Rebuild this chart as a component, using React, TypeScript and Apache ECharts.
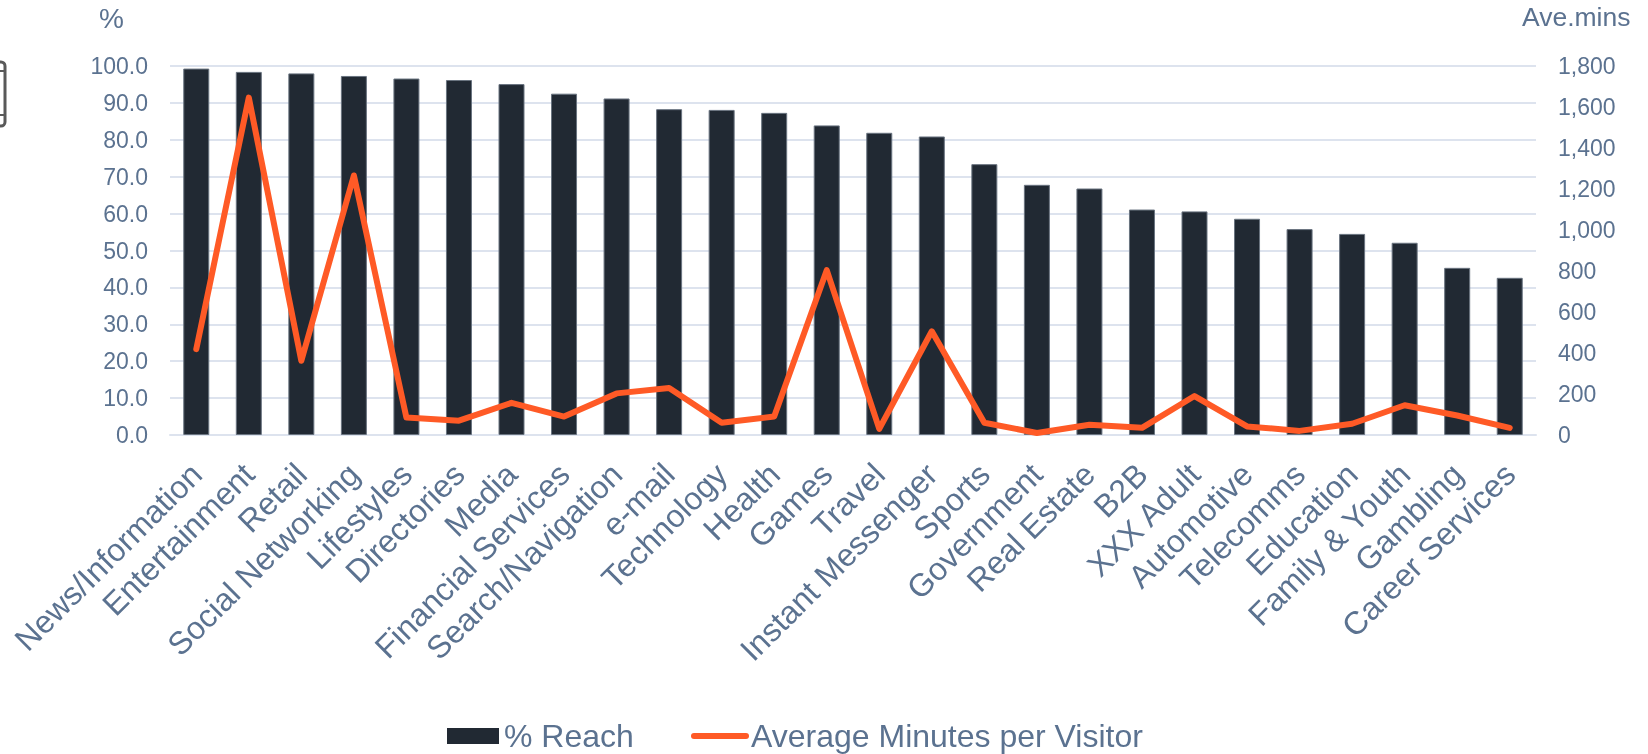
import React, { useEffect, useRef } from "react";
import * as echarts from "echarts";

const categories = ["News/Information","Entertainment","Retail","Social Networking","Lifestyles","Directories","Media","Financial Services","Search/Navigation","e-mail","Technology","Health","Games","Travel","Instant Messenger","Sports","Government","Real Estate","B2B","XXX Adult","Automotive","Telecomms","Education","Family & Youth","Gambling","Career Services"];
const reach = [99.3,98.4,98.0,97.3,96.6,96.2,95.1,92.5,91.2,88.3,88.1,87.3,83.9,81.9,80.9,73.4,67.8,66.8,61.1,60.6,58.6,55.8,54.5,52.1,45.3,42.6];
const minutes = [419,1646,362,1266,85,70,157,90,203,229,60,90,804,30,506,60,10,50,35,190,42,20,55,145,95,35];

const textColor = "#5b7290";
const gridColor = "#dde3ee";
const barColor = "#212933";
const lineColor = "#ff5a26";
const iconColor = "#595959";
const font = "'Liberation Sans', Arial, sans-serif";

export default function App() {
  const ref = useRef<HTMLDivElement>(null);
  useEffect(() => {
    const chart = echarts.init(ref.current!, null, { renderer: "svg" });
    const legendText = { fill: textColor, fontSize: 32, fontFamily: font, verticalAlign: "middle" };
    chart.setOption({
      animation: false,
      grid: { left: 170, right: 112, top: 66, bottom: 319 },
      legend: { show: false },
      graphic: [
        // frame partly off the left edge
        { type: "rect", x: -20, y: 62, shape: { width: 25, height: 64, r: 4 }, style: { fill: "none", stroke: iconColor, lineWidth: 3 } },
        { type: "line", shape: { x1: -20, y1: 71, x2: 5, y2: 71 }, style: { stroke: iconColor, lineWidth: 2 } },
        { type: "line", shape: { x1: -20, y1: 115, x2: 5, y2: 115 }, style: { stroke: iconColor, lineWidth: 2 } },
        // legend keys and labels
        { type: "rect", x: 447, y: 728, shape: { width: 52, height: 16 }, style: { fill: barColor } },
        { type: "text", x: 504, y: 736, style: { ...legendText, text: "% Reach" } },
        { type: "line", shape: { x1: 694, y1: 736, x2: 746, y2: 736 }, style: { stroke: lineColor, lineWidth: 6, lineCap: "round" } },
        { type: "text", x: 751, y: 736, style: { ...legendText, text: "Average Minutes per Visitor" } },
      ],
      xAxis: {
        type: "category",
        data: categories,
        axisLine: { lineStyle: { color: gridColor, width: 2 } },
        axisTick: { show: false },
        axisLabel: { interval: 0, rotate: 45, margin: 34, color: textColor, fontSize: 32, fontFamily: font },
      },
      yAxis: [
        {
          type: "value", min: 0, max: 100, interval: 10,
          name: "%", nameGap: 34, nameTextStyle: { color: textColor, fontSize: 28, fontFamily: font, align: "right", padding: [0, 46, 0, 0] },
          axisLine: { show: false }, axisTick: { show: false },
          splitLine: { lineStyle: { color: gridColor, width: 2 } },
          axisLabel: { margin: 22, color: textColor, fontSize: 23, fontFamily: font, formatter: (v: number) => v.toFixed(1) },
        },
        {
          type: "value", min: 0, max: 1800, interval: 200,
          name: "Ave.mins", nameGap: 36, nameTextStyle: { color: textColor, fontSize: 26.5, fontFamily: font, align: "left", padding: [0, 0, 0, -14] },
          axisLine: { show: false }, axisTick: { show: false },
          splitLine: { show: false },
          axisLabel: { margin: 22, color: textColor, fontSize: 23, fontFamily: font, formatter: (v: number) => v.toLocaleString("en-US") },
        },
      ],
      series: [
        { name: "% Reach", type: "bar", data: reach, barWidth: 26, itemStyle: { color: barColor, borderColor: "#6a7480", borderWidth: 1 } },
        { name: "Average Minutes per Visitor", type: "line", yAxisIndex: 1, data: minutes, showSymbol: false, symbol: "none", lineStyle: { color: lineColor, width: 6, cap: "round", join: "round" }, itemStyle: { color: lineColor } },
      ],
    });
    return () => chart.dispose();
  }, []);
  return <div ref={ref} style={{ position: "fixed", left: 0, top: 0, width: 1648, height: 754 }} />;
}
